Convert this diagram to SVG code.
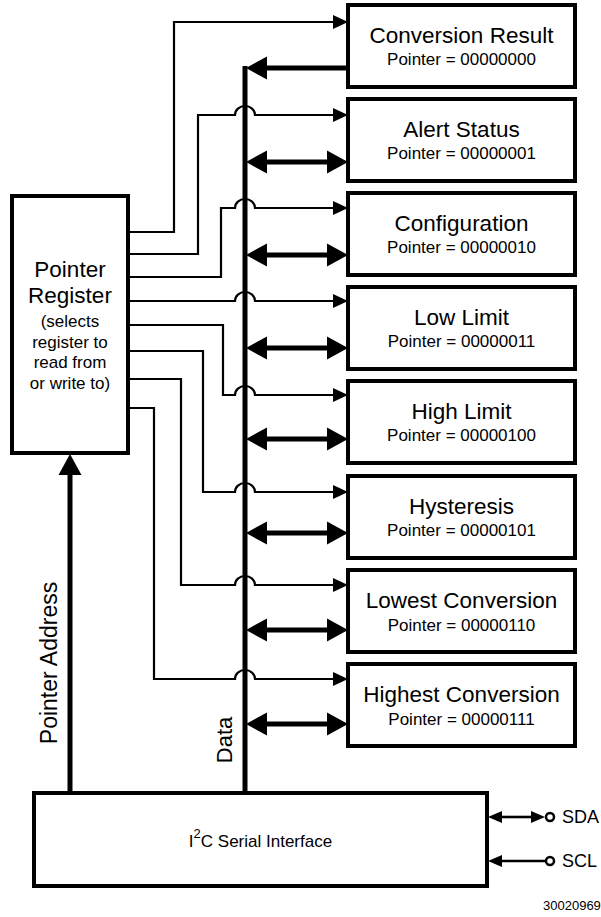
<svg xmlns="http://www.w3.org/2000/svg" width="601" height="917" viewBox="0 0 601 917">
<style>
text{font-family:"Liberation Sans",Arial,sans-serif;fill:#000}
.box{fill:#fff;stroke:#000;stroke-width:4}
.t{font-size:22.5px;text-anchor:middle}
.s{font-size:17px;text-anchor:middle}
.thin{fill:none;stroke:#000;stroke-width:2.2}
.thick{fill:none;stroke:#000;stroke-width:5}
.med{fill:none;stroke:#000;stroke-width:2.6}
</style>
<defs>
<marker id="ah" markerUnits="userSpaceOnUse" markerWidth="16" markerHeight="16" refX="0" refY="7" orient="auto" overflow="visible"><path d="M0,0 L15,7 L0,14 z" fill="#000"/></marker>
<marker id="AH" markerUnits="userSpaceOnUse" markerWidth="22" markerHeight="24" refX="0" refY="11.5" orient="auto-start-reverse" overflow="visible"><path d="M0,0 L21,11.5 L0,23 z" fill="#000"/></marker>
<marker id="sh" markerUnits="userSpaceOnUse" markerWidth="15" markerHeight="13" refX="0" refY="6" orient="auto-start-reverse" overflow="visible"><path d="M0,0 L14,6 L0,12 z" fill="#000"/></marker>
</defs>
<rect width="601" height="917" fill="#fff"/>

<g id="connectors">
<!-- data bus -->
<path class="thick" d="M245,66 V793"/>
<!-- pointer select lines -->
<path class="thin" d="M128,232 H174 V22 H333" marker-end="url(#ah)"/>
<path class="thin" d="M128,254 H198 V115 H235 A10,9 0 0 1 255,115 H333" marker-end="url(#ah)"/>
<path class="thin" d="M128,277 H221 V208 H235 A10,9 0 0 1 255,208 H333" marker-end="url(#ah)"/>
<path class="thin" d="M128,301 H235 A10,9 0 0 1 255,301 H333" marker-end="url(#ah)"/>
<path class="thin" d="M128,325 H223 V395 H235 A10,9 0 0 1 255,395 H333" marker-end="url(#ah)"/>
<path class="thin" d="M128,351 H203 V492 H235 A10,9 0 0 1 255,492 H333" marker-end="url(#ah)"/>
<path class="thin" d="M128,379 H181 V585 H235 A10,9 0 0 1 255,585 H333" marker-end="url(#ah)"/>
<path class="thin" d="M128,408 H154 V679 H235 A10,9 0 0 1 255,679 H333" marker-end="url(#ah)"/>
<!-- data arrows -->
<path class="thick" d="M348,68 H267" marker-end="url(#AH)"/>
<path class="thick" d="M267,162 H327" marker-start="url(#AH)" marker-end="url(#AH)"/>
<path class="thick" d="M267,255 H327" marker-start="url(#AH)" marker-end="url(#AH)"/>
<path class="thick" d="M267,348 H327" marker-start="url(#AH)" marker-end="url(#AH)"/>
<path class="thick" d="M267,439 H327" marker-start="url(#AH)" marker-end="url(#AH)"/>
<path class="thick" d="M267,533 H327" marker-start="url(#AH)" marker-end="url(#AH)"/>
<path class="thick" d="M267,630 H327" marker-start="url(#AH)" marker-end="url(#AH)"/>
<path class="thick" d="M267,724 H327" marker-start="url(#AH)" marker-end="url(#AH)"/>
<!-- pointer address -->
<path class="thick" d="M70,793 V475" marker-end="url(#AH)"/>
<!-- SDA / SCL -->
<path class="med" d="M502,817 H531" marker-start="url(#sh)" marker-end="url(#sh)"/>
<path class="med" d="M546,861 H502" marker-end="url(#sh)"/>
<circle cx="550" cy="817" r="4" fill="#fff" stroke="#000" stroke-width="2.5"/>
<circle cx="550" cy="861" r="4" fill="#fff" stroke="#000" stroke-width="2.5"/>
</g>

<g id="conversion-result"><rect class="box" x="348" y="5" width="227" height="82"/><text class="t" x="461.5" y="43">Conversion Result</text><text class="s" x="461.5" y="65">Pointer = 00000000</text></g>
<g id="alert-status"><rect class="box" x="348" y="99" width="227" height="82"/><text class="t" x="461.5" y="137">Alert Status</text><text class="s" x="461.5" y="159">Pointer = 00000001</text></g>
<g id="configuration"><rect class="box" x="348" y="193" width="227" height="82"/><text class="t" x="461.5" y="231">Configuration</text><text class="s" x="461.5" y="253">Pointer = 00000010</text></g>
<g id="low-limit"><rect class="box" x="348" y="287" width="227" height="82"/><text class="t" x="461.5" y="325">Low Limit</text><text class="s" x="461.5" y="347">Pointer = 00000011</text></g>
<g id="high-limit"><rect class="box" x="348" y="381" width="227" height="82"/><text class="t" x="461.5" y="419">High Limit</text><text class="s" x="461.5" y="441">Pointer = 00000100</text></g>
<g id="hysteresis"><rect class="box" x="348" y="476" width="227" height="82"/><text class="t" x="461.5" y="514">Hysteresis</text><text class="s" x="461.5" y="536">Pointer = 00000101</text></g>
<g id="lowest-conversion"><rect class="box" x="348" y="570" width="227" height="82"/><text class="t" x="461.5" y="608">Lowest Conversion</text><text class="s" x="461.5" y="631">Pointer = 00000110</text></g>
<g id="highest-conversion"><rect class="box" x="348" y="664" width="227" height="82"/><text class="t" x="461.5" y="702">Highest Conversion</text><text class="s" x="461.5" y="725">Pointer = 00000111</text></g>

<g id="pointer-register"><rect class="box" x="12" y="196" width="116" height="257"/>
<text class="t" x="70" y="277">Pointer</text>
<text class="t" x="70" y="303">Register</text>
<text class="s" x="70" y="327">(selects</text>
<text class="s" x="70" y="348">register to</text>
<text class="s" x="70" y="368">read from</text>
<text class="s" x="70" y="389">or write to)</text>
</g>

<g id="i2c-interface"><rect class="box" x="34" y="793" width="453" height="93"/>
<text x="260.5" y="847" font-size="17" text-anchor="middle">I<tspan font-size="13" dy="-9">2</tspan><tspan dy="9">C Serial Interface</tspan></text>
</g>

<g id="labels">
<text font-size="23" text-anchor="middle" transform="translate(57,663) rotate(-90)">Pointer Address</text>
<text font-size="22" text-anchor="middle" transform="translate(232,740) rotate(-90)">Data</text>
<text font-size="18" x="562" y="823">SDA</text>
<text font-size="18" x="562" y="867">SCL</text>
<text font-size="13" x="543" y="910">30020969</text>
</g>
</svg>
